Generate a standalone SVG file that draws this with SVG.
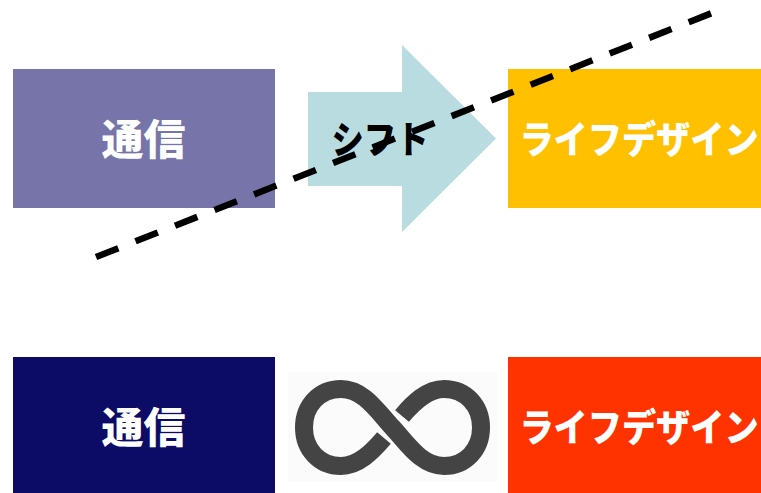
<svg xmlns="http://www.w3.org/2000/svg" width="761" height="493" viewBox="0 0 761 493">
<style>
text{font-family:"Noto Sans CJK JP","Liberation Sans",sans-serif;font-weight:900;text-anchor:middle;dominant-baseline:central}
.w{fill:#fff;font-size:42px}
.l{fill:#fff;font-size:38px}
.k{fill:#000;font-size:38px}
</style>
<rect width="761" height="493" fill="#fff"/>
<g id="node-tsushin-top"><rect x="13" y="69" width="262" height="139" fill="#7674a8"/><text class="w" x="143.500" y="136">通信</text></g>
<g id="node-shift"><polygon points="308,92 402,92 402,45 496,138.500 402,232 402,186 308,186" fill="#b9dce1"/><text class="k" transform="translate(380,136) scale(.85,1)">シフト</text></g>
<g id="node-life-top"><rect x="508" y="69" width="253" height="139" fill="#ffc000"/><text class="l" transform="translate(639,136) scale(.9,1)">ライフデザイン</text></g>
<g id="connectors"><line x1="96" y1="257" x2="712" y2="13" stroke="#000" stroke-width="6.500" stroke-dasharray="24 18.500"/></g>
<g id="node-tsushin-bottom"><rect x="13" y="357" width="262" height="136" fill="#0c0c66"/><text class="w" x="143.500" y="424">通信</text></g>
<g id="node-infinity"><rect x="288" y="372" width="209" height="110" fill="#fbfbfb"/><path d="M384,438C372,452 358,466 341,466C319,466 304,449 304,427.500C304,406 319,389 341,389C364,389 378,412 392.500,427.500C407,443 421,466 444,466C466,466 481,449 481,427.500C481,406 466,389 444,389C427,389 413,403 402,416" fill="none" stroke="#444" stroke-width="18"/></g>
<g id="node-life-bottom"><rect x="508" y="357" width="253" height="136" fill="#ff3300"/><text class="l" transform="translate(639,424) scale(.9,1)">ライフデザイン</text></g>
</svg>
